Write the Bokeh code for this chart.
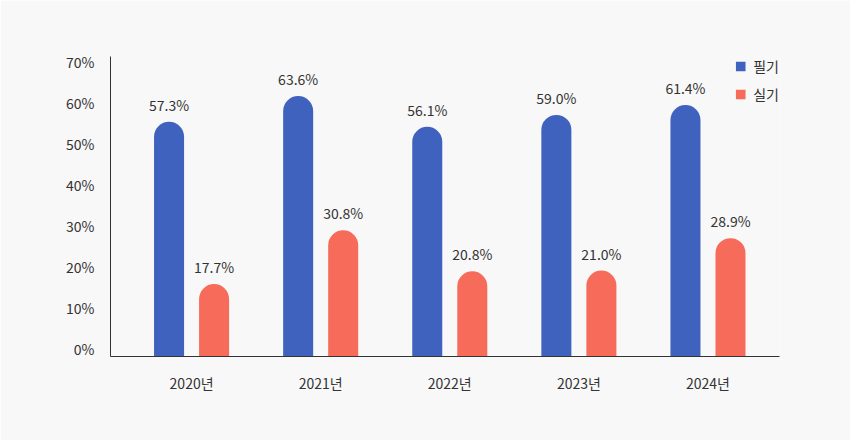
from bokeh.plotting import figure
from bokeh.models import Range1d, FixedTicker, LinearAxis, ColumnDataSource, Legend, LegendItem
from bokeh.core.properties import value
from bokeh.embed import file_html
from bokeh.resources import INLINE

years = ["2020년", "2021년", "2022년", "2023년", "2024년"]
written = [57.3, 63.6, 56.1, 59.0, 61.4]   # 필기
practical = [17.7, 30.8, 20.8, 21.0, 28.9]  # 실기
series_names = ["필기", "실기"]
y_ticks = [0, 10, 20, 30, 40, 50, 60, 70]

FONT = "Noto Sans CJK KR"
BLUE = "#3f62bf"
RED = "#f66b59"
TXT = "#333333"

p = figure(width=850, height=440, output_backend="svg", toolbar_location=None,
           x_range=Range1d(-0.628, 4.554), y_range=Range1d(0, 73.26),
           min_border_left=110, min_border_right=71, min_border_top=56, min_border_bottom=84,
           background_fill_color="#f8f8f8", border_fill_color="#f8f8f8")
p.outline_line_color = None
p.xgrid.visible = False
p.ygrid.visible = False
p.yaxis.visible = False

# y axis with labels slightly raised as in the reference
p.extra_y_ranges = {"lab": Range1d(-1.8, 71.46)}
yax = LinearAxis(y_range_name="lab", ticker=FixedTicker(ticks=y_ticks))
yax.major_label_overrides = {t: f"{t}%" for t in y_ticks}
p.add_layout(yax, "left")

xax = p.xaxis[0]
xax.ticker = FixedTicker(ticks=list(range(len(years))))
xax.major_label_overrides = {i: y for i, y in enumerate(years)}

for ax in [xax, yax]:
    ax.axis_line_color = TXT
    ax.axis_line_width = 1
    ax.major_tick_line_color = None
    ax.minor_tick_line_color = None
    ax.major_label_text_font = FONT
    ax.major_label_text_font_size = "14px"
    ax.major_label_text_color = TXT
xax.major_label_standoff = 10
yax.major_label_standoff = 10

off = 22.5 / 129.0
w = 30 / 129.0
idx = list(range(len(years)))
src_w = ColumnDataSource(dict(x=[i - off for i in idx], top=written, lab=[f"{v:.1f}%" for v in written]))
src_p = ColumnDataSource(dict(x=[i + off for i in idx], top=practical, lab=[f"{v:.1f}%" for v in practical]))

rw = p.vbar(x="x", top="top", bottom=0, width=w, source=src_w, fill_color=BLUE, line_color=None,
            border_radius=(15, 15, 0, 0))
rp = p.vbar(x="x", top="top", bottom=0, width=w, source=src_p, fill_color=RED, line_color=None,
            border_radius=(15, 15, 0, 0))

for s in [src_w, src_p]:
    p.text(x="x", y="top", text="lab", source=s, text_align="center", text_baseline="bottom",
           y_offset=-7, text_font=value(FONT), text_font_size="14px", text_color=TXT)

legend = Legend(items=[LegendItem(label=series_names[0], renderers=[rw]),
                       LegendItem(label=series_names[1], renderers=[rp])],
                location="top_right", orientation="vertical")
legend.background_fill_alpha = 0
legend.border_line_color = None
legend.padding = 0
legend.margin = 0
legend.glyph_width = 12
legend.glyph_height = 12
legend.label_standoff = 7
legend.spacing = 8
legend.label_height = 12
legend.label_text_font = FONT
legend.label_text_font_size = "14px"
legend.label_text_color = TXT
p.add_layout(legend, "center")

open("out.html", "w").write(file_html(p, INLINE))
